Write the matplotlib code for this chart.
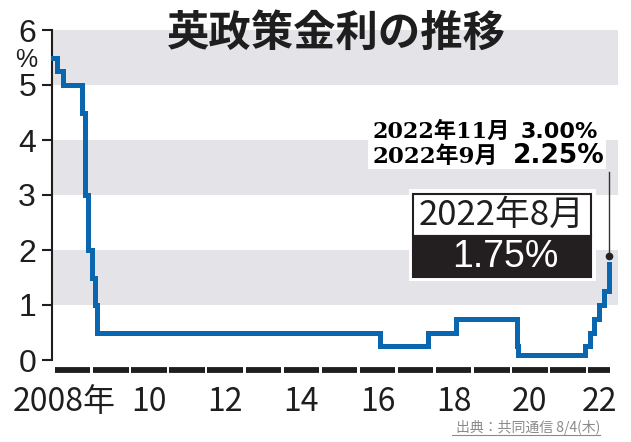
"""UK policy rate step chart (英政策金利の推移)."""

import matplotlib

matplotlib.use("Agg")

import matplotlib.pyplot as plt
import matplotlib.transforms as mtransforms
import pandas as pd
from matplotlib.lines import Line2D
from matplotlib.patches import Rectangle

W, H = 631, 442

# --- data ---------------------------------------------------------------
RATE_DATES = [
    "2008-01-01", "2008-02-07", "2008-04-10", "2008-10-08", "2008-11-06",
    "2008-12-04", "2009-01-08", "2009-02-05", "2009-03-05", "2016-08-04",
    "2017-11-02", "2018-08-02", "2020-03-11", "2020-03-19", "2021-12-16",
    "2022-02-03", "2022-03-17", "2022-05-05", "2022-06-16", "2022-08-04",
]
RATES = [
    5.50, 5.25, 5.00, 4.50, 3.00,
    2.00, 1.50, 1.00, 0.50, 0.25,
    0.50, 0.75, 0.25, 0.10, 0.25,
    0.50, 0.75, 1.00, 1.25, 1.75,
]
YEARS = list(range(2008, 2023))
YEAR_LABELS = ["2008年", "10", "12", "14", "16", "18", "20", "22"]
Y_TICKS = [0, 1, 2, 3, 4, 5, 6]

TITLE = "英政策金利の推移"
NOTE_NOV = ("2022年11月", "3.00%")
NOTE_SEP = ("2022年9月", "2.25%")
BOX_TOP = "2022年8月"
BOX_BOTTOM = "1.75%"
SOURCE = "出典：共同通信 8/4(木)"

LINE_COLOR = "#0B66B0"
BAND_COLOR = "#E3E3E8"
INK = "#1E1E1E"

NARROW = ["Liberation Sans Narrow", "Noto Sans CJK JP"]
SANS = ["Liberation Sans", "Noto Sans CJK JP"]


def to_year(dates):
    d = pd.to_datetime(pd.Series(dates))
    start = pd.to_datetime(d.dt.year.astype(str) + "-01-01")
    length = pd.to_datetime((d.dt.year + 1).astype(str) + "-01-01") - start
    return (d.dt.year + (d - start) / length).to_numpy()


def fx(x):
    return x / W


def fy(y):
    return 1 - y / H


def main():
    fig = plt.figure(figsize=(W / 100, H / 100), dpi=100)
    fig.patch.set_facecolor("white")
    ax = fig.add_axes([fx(52), fy(360), fx(618 - 52), (360 - 30) / H])

    x = to_year(RATE_DATES)
    last = x[-1]

    for lo in (1, 3, 5):
        ax.axhspan(lo, lo + 1, color=BAND_COLOR, lw=0, zorder=0)

    ax.step(x, RATES, where="post", color=LINE_COLOR, lw=3.6,
            solid_joinstyle="miter", zorder=3, clip_on=False)

    # black year segments below the axis
    starts = [y + 0.06 for y in YEARS]
    ends = [min(y + 0.99, last + 0.04) for y in YEARS]
    ax.hlines([-0.19] * len(YEARS), starts, ends, color=INK, lw=4.2,
              clip_on=False, zorder=3)

    ax.set_xlim(2007.98, 2022.835)
    ax.set_ylim(0, 6)

    for side in ("top", "right", "bottom"):
        ax.spines[side].set_visible(False)
    ax.spines["left"].set_linewidth(1.5)
    ax.spines["left"].set_color(INK)

    ax.set_yticks(Y_TICKS)
    ax.set_yticklabels([str(v) for v in Y_TICKS], family=SANS, fontsize=23,
                       color=INK)
    ax.tick_params(axis="y", length=7.5, width=1.5, pad=4, color=INK)

    centers = [(s + e) / 2 for s, e in zip(starts, ends)][::2]
    ax.set_xticks(centers)
    ax.set_xticklabels(YEAR_LABELS, family=NARROW, fontsize=23, color=INK)
    ax.tick_params(axis="x", length=0, pad=19)
    first = ax.get_xticklabels()[0]
    first.set_transform(first.get_transform() + mtransforms.ScaledTranslation(
        -9 / 100, 0, fig.dpi_scale_trans))

    fig.text(fx(26), fy(60), "%", family=SANS, fontsize=18, color=INK,
             ha="center", va="center")

    fig.text(fx(336), fy(34), TITLE, family=["Noto Sans CJK JP"],
             fontweight="bold", fontsize=30.5, color=INK, ha="center",
             va="center")

    # white patch behind the Sep / Nov notes
    fig.patches.append(Rectangle((fx(368), fy(169)), fx(606 - 368),
                                 (169 - 113) / H, transform=fig.transFigure,
                                 facecolor="white", edgecolor="none",
                                 zorder=4))
    serif = ["DejaVu Serif", "Noto Sans CJK JP"]
    fig.text(fx(372), fy(138), NOTE_NOV[0], family=serif, fontweight="bold",
             fontsize=16, color="black", ha="left", va="baseline", zorder=5)
    fig.text(fx(598), fy(138), NOTE_NOV[1], family=["DejaVu Sans"],
             fontweight="bold", fontsize=16, color="black", ha="right",
             va="baseline", zorder=5)
    fig.text(fx(372), fy(163), NOTE_SEP[0], family=serif, fontweight="bold",
             fontsize=16.5, color="black", ha="left", va="baseline", zorder=5)
    fig.text(fx(605), fy(163), NOTE_SEP[1], family=["DejaVu Sans"],
             fontweight="bold", fontsize=19, color="black", ha="right",
             va="baseline", zorder=5)

    # leader line from notes down to the latest point
    ax.plot([last, last], [1.89, 3.42], color="#333333", lw=1.0,
            clip_on=False, zorder=4)
    ax.plot([last], [1.89], "o", color="#222222", ms=4.5, clip_on=False,
            zorder=4)

    # Aug 2022 callout box
    fig.patches.append(Rectangle((fx(409), fy(281)), fx(596 - 409),
                                 (281 - 189) / H, transform=fig.transFigure,
                                 facecolor="white", edgecolor="none",
                                 zorder=4))
    fig.patches.append(Rectangle((fx(413), fy(236)), fx(591 - 413),
                                 (236 - 194) / H, transform=fig.transFigure,
                                 facecolor="white", edgecolor="#231F20",
                                 lw=1.5, zorder=5))
    fig.patches.append(Rectangle((fx(413), fy(277)), fx(591 - 413),
                                 (277 - 236) / H, transform=fig.transFigure,
                                 facecolor="#231F20", edgecolor="#231F20",
                                 lw=1.5, zorder=5))
    fig.text(fx(502), fy(215), BOX_TOP, family=NARROW, fontsize=25,
             color=INK, ha="center", va="center", zorder=6)
    fig.text(fx(505), fy(257), BOX_BOTTOM, family=SANS, fontsize=27,
             color="white", ha="center", va="center", zorder=6)

    fig.text(fx(600), fy(432), SOURCE, family=["Noto Sans CJK JP"],
             fontsize=10, color="#8A8A8A", ha="right", va="baseline")
    fig.lines.append(Line2D([fx(452), fx(600)], [fy(435), fy(435)],
                            transform=fig.transFigure, color="#8A8A8A",
                            lw=0.8))

    fig.savefig("out.png", dpi=100)


if __name__ == "__main__":
    main()
